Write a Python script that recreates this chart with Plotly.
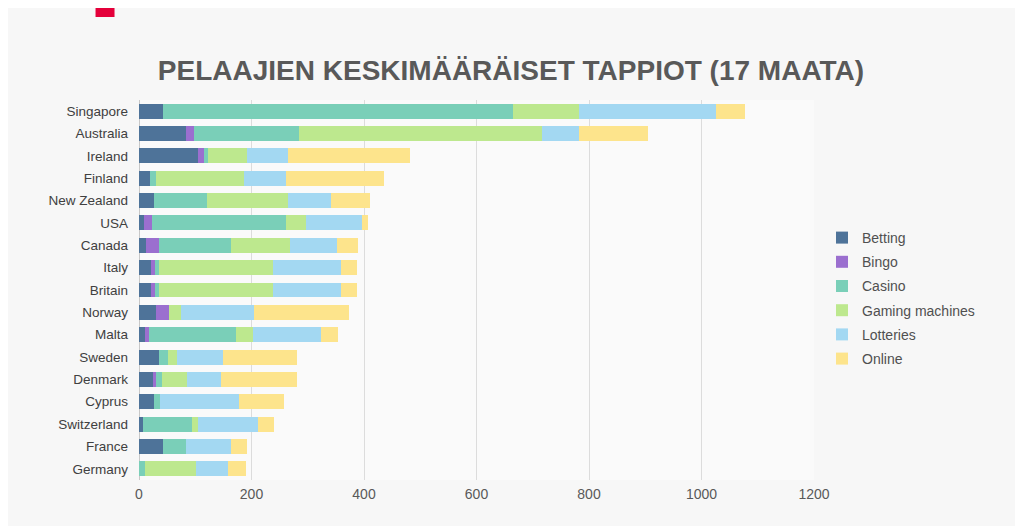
import plotly.graph_objects as go

countries = ["Singapore", "Australia", "Ireland", "Finland", "New Zealand", "USA",
             "Canada", "Italy", "Britain", "Norway", "Malta", "Sweden", "Denmark",
             "Cyprus", "Switzerland", "France", "Germany"]

betting = [43, 84, 105, 19, 27, 8, 12, 21, 21, 30, 10, 36, 24, 27, 7, 42, 0]
bingo = [0, 13, 10, 0, 0, 15, 23, 8, 8, 23, 8, 0, 6, 0, 0, 0, 0]
casino = [622, 187, 8, 11, 93, 239, 129, 6, 6, 0, 155, 16, 10, 10, 87, 42, 10]
gaming_machines = [117, 433, 69, 157, 144, 35, 105, 203, 203, 21, 30, 15, 45, 0, 11, 0, 92]
lotteries = [244, 65, 73, 74, 77, 99, 83, 121, 121, 130, 120, 83, 60, 141, 107, 79, 57]
online = [52, 122, 217, 175, 70, 11, 37, 28, 28, 169, 31, 130, 135, 79, 28, 29, 31]

series_names = ["Betting", "Bingo", "Casino", "Gaming machines", "Lotteries", "Online"]
series_values = [betting, bingo, casino, gaming_machines, lotteries, online]
series_colors = ["#4e7399", "#9b6fcf", "#7acfb8", "#bde88e", "#a3d8f2", "#fde48c"]

x_ticks = [0, 200, 400, 600, 800, 1000, 1200]

# page is offset by the 8px body margin
L, R, T, B = 130.5, 217, 92, 54
PW = 1023 - L - R
PH = 526 - T - B

fig = go.Figure()
for name, vals, col in zip(series_names, series_values, series_colors):
    fig.add_trace(go.Bar(
        y=countries, x=vals, name=name, orientation="h",
        marker=dict(color=col, line=dict(width=0)),
        legendgroup=name,
    ))

fig.update_layout(
    width=1023, height=526,
    barmode="stack", bargap=0.33,
    paper_bgcolor="#f7f7f7", plot_bgcolor="#fafafa",
    margin=dict(l=L, r=R, t=T, b=B, autoexpand=False),
    title=dict(
        text="<b>PELAAJIEN KESKIMÄÄRÄISET TAPPIOT (17 MAATA)</b>",
        x=(511 - 8) / 1023, xref="container", xanchor="center",
        y=1 - (70 - 8) / 526, yref="container", yanchor="middle",
        font=dict(family="Liberation Sans Narrow, Arial Narrow, Liberation Sans, Arial, sans-serif",
                  size=28, color="#595959"),
    ),
    font=dict(family="Liberation Sans, Arial, sans-serif", size=14, color="#595959"),
    xaxis=dict(
        range=[0, 1200], tickvals=x_ticks, ticktext=[str(v) for v in x_ticks],
        showgrid=True, gridcolor="#dcdcdc", gridwidth=1,
        zeroline=True, zerolinecolor="#c8c8c8", zerolinewidth=1,
        showline=False, ticks="", tickfont=dict(size=14, color="#595959"),
        ticklabelstandoff=4,
    ),
    yaxis=dict(
        autorange="reversed", showgrid=False, ticks="",
        tickfont=dict(size=13.5, color="#404040"), ticklabelstandoff=10,
    ),
    legend=dict(
        x=1 + 8 / PW, xref="paper", xanchor="left", y=0.5 - 8.5 / PH, yanchor="middle",
        traceorder="grouped", tracegroupgap=3, itemwidth=30,
        bgcolor="rgba(0,0,0,0)",
        font=dict(size=14, color="#505050"),
    ),
    shapes=[dict(
        type="rect", xref="paper", yref="paper",
        x0=(87 - L) / PW, x1=(106 - L) / PW,
        y0=(526 - B - 9) / PH, y1=(526 - B + 8) / PH,
        fillcolor="#e4003a", line=dict(width=0), layer="above",
    )],
)

fig.write_html("out.html")
